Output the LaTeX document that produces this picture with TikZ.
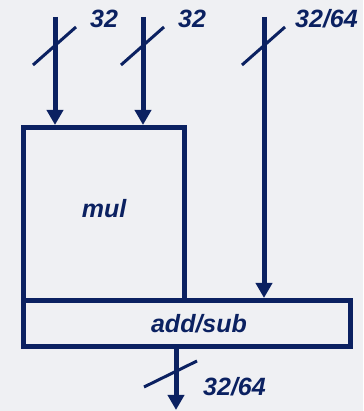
\documentclass[tikz,border=0pt]{standalone}
\usepackage{fontspec}
\setmainfont{Liberation Sans}
\usetikzlibrary{positioning,arrows.meta}
\definecolor{bus}{HTML}{0B2161}
\definecolor{paper}{HTML}{EFF0F3}

\begin{document}
\begin{tikzpicture}[x=1pt,y=1pt,
  unit/.style={draw=bus,line width=5pt,inner sep=0pt},
  wire/.style={bus,line width=5pt,-{Triangle[length=15pt,width=16pt]}},
  tick/.style={bus,line width=3pt},
  bits/.style={text=bus,font=\fontsize{25}{30}\selectfont\bfseries\itshape,inner sep=0pt}]
\fill[paper] (0,0) rectangle (363,411);
\useasboundingbox (0,0) rectangle (363,411);
% units
\node[unit,minimum width=161pt,minimum height=173pt,label={[bits,yshift=5pt]center:mul}] (mul) at (104,197) {};
\node[unit,minimum width=327pt,minimum height=46pt,label={[bits,xshift=12pt]center:add/sub}] (add) at (187,87.5) {};
% buses
\coordinate (ina) at (55,394);
\coordinate (inb) at (143,394);
\coordinate (inc) at (264,394);
\coordinate (out) at (176,1);
\draw[wire] (ina) -- (ina |- mul.north);
\draw[wire] (inb) -- (inb |- mul.north);
\draw[wire] (inc) -- (inc |- add.north);
\draw[wire] (add.south -| out) -- (out);
\foreach \c in {ina,inb,inc} \draw[tick] (\c) ++(-22,-48) -- ++(43,38);
\draw[tick] (out) ++(-32,23) -- ++(53,26);
\node[bits,anchor=west] (wa) at ([shift={(35,-2)}]ina) {32};
\node[bits,anchor=west] (wb) at ([shift={(35,-2)}]inb) {32};
\node[bits,anchor=west] (wc) at ([shift={(31,-2)}]inc) {32/64};
\node[bits,anchor=west] (wo) at ([shift={(27,23.5)}]out) {32/64};
\end{tikzpicture}
\end{document}
